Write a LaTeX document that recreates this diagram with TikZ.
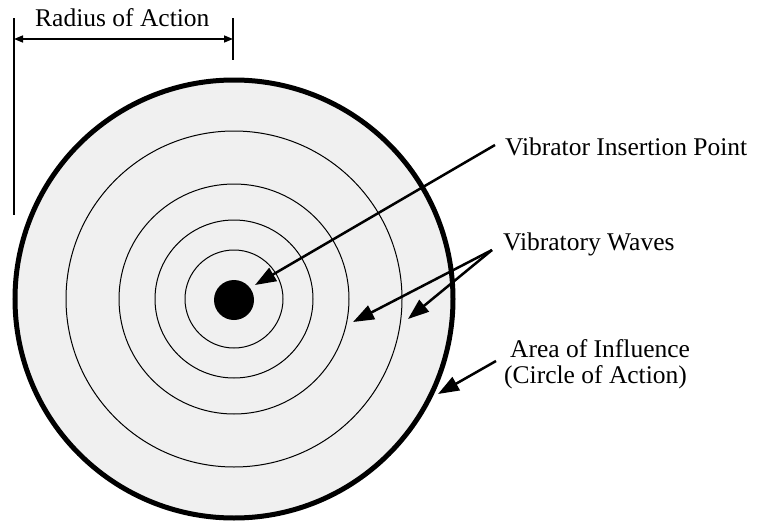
\documentclass[tikz,border=0pt]{standalone}
\usepackage{fontspec}
\setmainfont{Liberation Serif}
\usetikzlibrary{arrows.meta}
\definecolor{fieldgray}{RGB}{240,240,240}
\tikzset{
  lbl/.style={anchor=base west, inner sep=0pt, font=\fontsize{25.5}{27}\selectfont},
  pointer/.style={line width=2.5pt, -{Triangle[length=21pt,width=15pt]}},
  ring/.style={line width=1pt},
}
\begin{document}
\begin{tikzpicture}[x=1pt, y=-1pt]
    \useasboundingbox (0,0) rectangle (758,522);

    % Radius dimension:
    \draw [line width=1.2pt] (14,18) -- (14,215);
    \draw [line width=1.2pt] (233,18) -- (233,60);
    \coordinate (rleft) at (14,39);
    \coordinate (rright) at (233,39);
    \draw [line width=1.5pt, {Triangle[length=9pt,width=7pt]}-{Triangle[length=9pt,width=7pt]}] (rleft) -- (rright);
    \node [lbl] (roa) at (35,27) {Radius of Action};

    % Area of influence and the waves
    \draw [line width=5pt, fill=fieldgray] (234,299) circle (219);
    \foreach \r in {168,115,79,49}{%
        \draw [ring] (234,299) circle (\r);
    }
    \fill (234,300) circle (20);

    % Labels:
    \node [lbl] (vip) at (505,155) {Vibrator Insertion Point};
    \node [lbl] (vw) at (503,250) {Vibratory Waves};
    \node [lbl] (aoi) at (510,357) {Area of Influence};
    \node [lbl] (coa) at (504,383) {(Circle of Action)};

    % Pointers:
    \coordinate (vipfrom) at (495,145);
    \coordinate (vipto) at (255,285);
    \coordinate (vwfrom) at (492,250);
    \coordinate (vwinner) at (353,322);
    \coordinate (vwouter) at (408,319);
    \coordinate (aoifrom) at (496,361);
    \coordinate (aoito) at (438,394);
    \draw [pointer] (vipfrom) -- (vipto);
    \draw [pointer] (vwfrom) -- (vwinner);
    \draw [pointer] (vwfrom) -- (vwouter);
    \draw [pointer] (aoifrom) -- (aoito);

\end{tikzpicture}
\end{document}
